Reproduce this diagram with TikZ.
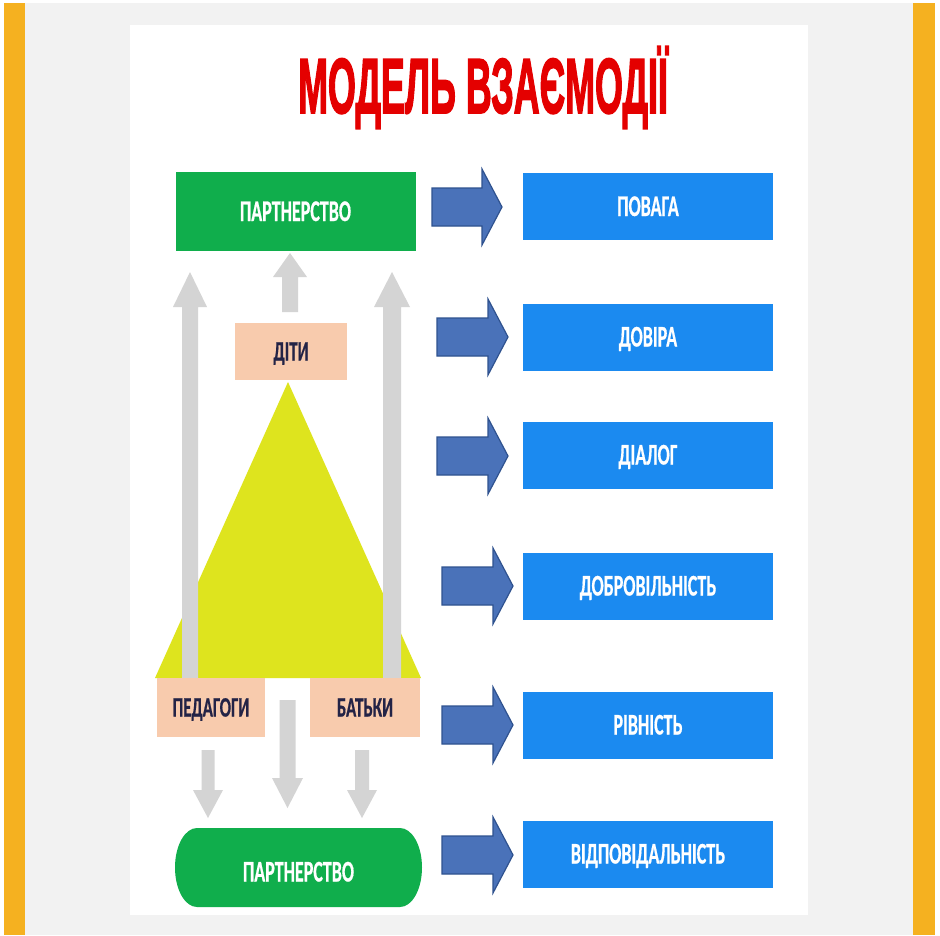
\documentclass[tikz,border=0pt]{standalone}
\usepackage{fontspec}
\usepackage{graphicx}
\setmainfont{Carlito}[BoldFeatures={FakeBold=0.8}]
\newfontfamily\titlefont{Liberation Sans}[BoldFeatures={FakeBold=2.5}]
\usetikzlibrary{calc}
\definecolor{orangebar}{RGB}{245,177,32}
\definecolor{bggray}{RGB}{242,242,242}
\definecolor{titlered}{RGB}{228,0,0}
\definecolor{pgreen}{RGB}{16,174,76}
\definecolor{pblue}{RGB}{27,138,240}
\definecolor{arrowblue}{RGB}{74,114,185}
\definecolor{arrowedge}{RGB}{47,82,143}
\definecolor{lgray}{RGB}{212,212,212}
\definecolor{peach}{RGB}{248,203,173}
\definecolor{tyellow}{RGB}{222,228,30}
\definecolor{darktext}{RGB}{35,35,70}
\newcommand\sqz[2]{\scalebox{#1}[1]{#2}}
\newcommand\bluearrow[4]{%
  \filldraw[fill=arrowblue,draw=arrowedge,line width=1.2pt,line join=miter]
    (#1,#4-19) -- (#2,#4-19) -- (#2,#4-38) -- (#3,#4) -- (#2,#4+38)
    -- (#2,#4+19) -- (#1,#4+19) -- cycle;}
\newcommand\uparrowshape[5]{% centre x, bottom y, head base y, tip y, shaft half width
  \fill[lgray] (#1-#5,#2) -- (#1-#5,#3) -- (#1-#5-9,#3) -- (#1,#4) -- (#1+#5+9,#3)
    -- (#1+#5,#3) -- (#1+#5,#2) -- cycle;}
\tikzset{
  boxlabel/.style={inner sep=0pt,text height=19pt,text depth=0pt,font=\fontsize{30}{30}\bfseries\selectfont,text=white},
  greenbox/.style={boxlabel,fill=pgreen,minimum width=240pt,minimum height=79pt},
  bluebox/.style={boxlabel,fill=pblue,minimum width=250pt,minimum height=67pt},
  peachbox/.style={inner sep=0pt,text height=18pt,text depth=0pt,font=\fontsize{28}{28}\bfseries\selectfont,text=darktext,fill=peach},
}
\begin{document}
\begin{tikzpicture}[x=1pt,y=-1pt]
\useasboundingbox (0,0) rectangle (940,935);
\fill[white] (0,0) rectangle (940,935);
\fill[bggray] (25,3) rectangle (913,935);
\fill[orangebar] (4,3) rectangle (25,935);
\fill[orangebar] (913,3) rectangle (935,935);
\fill[white] (130,25) rectangle (808,915);

% title
\node[anchor=base,inner sep=0pt,text=titlered,font=\titlefont\fontsize{78}{78}\bfseries\selectfont] (title) at (483,113) {\sqz{0.46}{МОДЕЛЬ ВЗАЄМОДІЇ}};

% triangle
\fill[tyellow] (288,382) -- (155,678) -- (421,678) -- cycle;

% gray arrows up
\uparrowshape{190}{678}{307}{272}{8}
\uparrowshape{392}{678}{307}{272}{9}
\uparrowshape{290}{312}{277}{253}{8}

% boxes left
\node[greenbox] (top) at (295.5,211.5) {\sqz{0.6}{ПАРТНЕРСТВО}};
\node[peachbox,minimum width=112pt,minimum height=57pt] (kids) at (291,351.5) {\sqz{0.6}{ДІТИ}};
\node[peachbox,minimum width=108pt,minimum height=59pt] (ped) at (211,707.5) {\sqz{0.6}{ПЕДАГОГИ}};
\node[peachbox,minimum width=110pt,minimum height=59pt] (par) at (365,707.5) {\sqz{0.6}{БАТЬКИ}};

% gray arrows down
\fill[lgray] (201.5,750) -- (201.5,790) -- (193,790) -- (208,818) -- (223,790) -- (214.5,790) -- (214.5,750) -- cycle;
\fill[lgray] (279.5,700) -- (279.5,778) -- (272,778) -- (287.5,808) -- (303,778) -- (295.5,778) -- (295.5,700) -- cycle;
\fill[lgray] (355,750) -- (355,790) -- (347,790) -- (362,818) -- (377,790) -- (369,790) -- (369,750) -- cycle;

% bottom green
\fill[pgreen] (197,828) -- (400,828) arc[start angle=-90,end angle=90,x radius=22,y radius=39.5]
  -- (197,907) arc[start angle=90,end angle=270,x radius=22,y radius=39.5] -- cycle;
\node[boxlabel] (bottom) at (298.5,872) {\sqz{0.6}{ПАРТНЕРСТВО}};

% blue boxes
\node[bluebox] (b1) at (648,206.5) {\sqz{0.6}{ПОВАГА}};
\node[bluebox] (b2) at (648,337) {\sqz{0.6}{ДОВІРА}};
\node[bluebox] (b3) at (648,455) {\sqz{0.6}{ДІАЛОГ}};
\node[bluebox] (b4) at (648,586) {\sqz{0.6}{ДОБРОВІЛЬНІСТЬ}};
\node[bluebox] (b5) at (648,725) {\sqz{0.6}{РІВНІСТЬ}};
\node[bluebox] (b6) at (648,854) {\sqz{0.6}{ВІДПОВІДАЛЬНІСТЬ}};

% blue block arrows
\bluearrow{432}{482}{502}{207}
\bluearrow{437}{488}{508}{337}
\bluearrow{437}{488}{508}{456}
\bluearrow{442}{493}{513}{586}
\bluearrow{442}{493}{513}{725}
\bluearrow{442}{493}{513}{855}
\end{tikzpicture}
\end{document}
